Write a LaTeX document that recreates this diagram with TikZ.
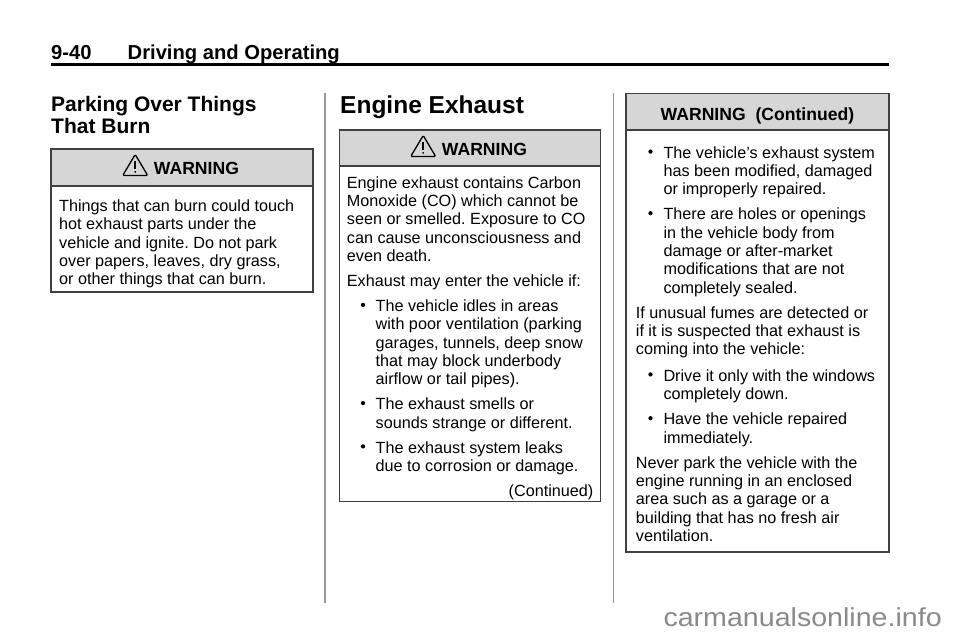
\documentclass[tikz,border=0pt]{standalone}
\usepackage{fontspec}
\setmainfont{Liberation Sans}
\frenchspacing
\definecolor{boxline}{HTML}{404040}
\definecolor{bandfill}{HTML}{D6D6D6}
\definecolor{sepgray}{HTML}{9A9A9A}
\definecolor{wmgray}{HTML}{8A8A8A}
\newcommand\bodyfont{\fontsize{16.2}{18.3}\selectfont}
\newcommand\TLine[4]{\node[txt] (#1) at (#2,#3+1.5) {#4};}
\newcommand\BDot{}
\renewcommand\BDot[3]{\node[bdot] (#1) at (#2,#3-6.6) {};}
\tikzset{
  txt/.style={anchor=base west, inner sep=0pt, font=\bodyfont, text=black},
  bdot/.style={circle, fill=black, inner sep=0pt, minimum size=4.3pt},
  boxframe/.style={draw=boxline, line width=1.4pt},
  warnhead/.style={anchor=base west, inner sep=0pt, font=\fontsize{17.6}{20}\selectfont\bfseries},
  warnsign/.pic={
    \draw[line width=1.3pt, line join=round, rounded corners=1.2pt] (0,0.5) -- (25,0.5) -- (12.5,-20.5) -- cycle;
    \draw[line width=1.5pt] (12.5,-14.5) -- (12.5,-6.3);
    \fill (12.5,-3.2) circle (1pt);
  }
}
\begin{document}
\begin{tikzpicture}[x=1pt,y=-1pt]
\useasboundingbox (0,0) rectangle (960,642);
\fill[white] (0,0) rectangle (960,642);

% page header
\node[anchor=base west, inner sep=0pt, font=\fontsize{20.2}{22}\selectfont\bfseries] (pnum) at (51,59.3) {9-40};
\node[anchor=base west, inner sep=0pt, font=\fontsize{20.2}{22}\selectfont\bfseries] (ptitle) at (127.5,59.3) {Driving and Operating};
\draw[line width=2.3pt] (51,64.5) -- (889,64.5);

% column separators
\draw[sepgray, line width=1.2pt] (325,93) -- (325,603);
\draw[sepgray, line width=1.2pt] (613.5,93) -- (613.5,603);

% column 1 heading
\node[anchor=base west, inner sep=0pt, font=\fontsize{21}{23}\selectfont\bfseries] (h1a) at (51,111) {Parking Over Things};
\node[anchor=base west, inner sep=0pt, font=\fontsize{21}{23}\selectfont\bfseries] (h1b) at (51,133.5) {That Burn};

% box 1
\fill[bandfill] (51,149) rectangle (313,186);
\draw[boxline, line width=1.4pt] (51,186) -- (313,186);
\draw[boxframe] (51,149) rectangle (313,292);
\pic at (122.7,175) {warnsign};
\node[warnhead] (w1) at (153.7,174.7) {WARNING};
\TLine{a1}{59}{210}{Things that can burn could touch}
\TLine{a2}{59}{228.3}{hot exhaust parts under the}
\TLine{a3}{59}{246.6}{vehicle and ignite. Do not park}
\TLine{a4}{59}{264.9}{over papers, leaves, dry grass,}
\TLine{a5}{59}{283.2}{or other things that can burn.}

% column 2 heading
\node[anchor=base west, inner sep=0pt, font=\fontsize{24.5}{27}\selectfont\bfseries] (h2) at (340,113) {Engine Exhaust};

% box 2
\fill[bandfill] (339.3,130) rectangle (600.7,166);
\draw[boxline, line width=1.4pt] (339.3,166) -- (600.7,166);
\draw[boxframe] (339.3,130) rectangle (600.7,501.5);
\pic at (410.7,156) {warnsign};
\node[warnhead] (w2) at (441.7,155.7) {WARNING};
\TLine{b1}{346.7}{186.8}{Engine exhaust contains Carbon}
\TLine{b2}{346.7}{205.1}{Monoxide (CO) which cannot be}
\TLine{b3}{346.7}{223.4}{seen or smelled. Exposure to CO}
\TLine{b4}{346.7}{241.7}{can cause unconsciousness and}
\TLine{b5}{346.7}{260}{even death.}
\TLine{b6}{346.7}{285}{Exhaust may enter the vehicle if:}
\BDot{bd1}{363}{311.5}
\TLine{b7}{375.5}{310}{The vehicle idles in areas}
\TLine{b8}{375.5}{328.3}{with poor ventilation (parking}
\TLine{b9}{375.5}{346.6}{garages, tunnels, deep snow}
\TLine{b10}{375.5}{364.9}{that may block underbody}
\TLine{b11}{375.5}{383.2}{airflow or tail pipes).}
\BDot{bd2}{363}{409.7}
\TLine{b12}{375.5}{408.2}{The exhaust smells or}
\TLine{b13}{375.5}{426.5}{sounds strange or different.}
\BDot{bd3}{363}{453}
\TLine{b14}{375.5}{451.5}{The exhaust system leaks}
\TLine{b15}{375.5}{469.8}{due to corrosion or damage.}
\node[txt, anchor=base east] (b16) at (593.5,496.3) {(Continued)};

% box 3
\fill[bandfill] (626,93.5) rectangle (889,130);
\draw[boxline, line width=1.4pt] (626,130) -- (889,130);
\draw[boxframe] (626,93.5) rectangle (889,552);
\node[anchor=base, inner sep=0pt, font=\fontsize{17.6}{20}\selectfont\bfseries] (w3) at (757.5,120.5) {WARNING\ \ (Continued)};
\BDot{cd1}{650.5}{158.2}
\TLine{c1}{663.3}{156.7}{The vehicle’s exhaust system}
\TLine{c2}{663.3}{175}{has been modified, damaged}
\TLine{c3}{663.3}{193.3}{or improperly repaired.}
\BDot{cd2}{650.5}{219.8}
\TLine{c4}{663.3}{218.3}{There are holes or openings}
\TLine{c5}{663.3}{236.7}{in the vehicle body from}
\TLine{c6}{663.3}{255}{damage or after-market}
\TLine{c7}{663.3}{273.3}{modifications that are not}
\TLine{c8}{663.3}{291.7}{completely sealed.}
\TLine{c9}{635.7}{316.7}{If unusual fumes are detected or}
\TLine{c10}{635.7}{335}{if it is suspected that exhaust is}
\TLine{c11}{635.7}{353.3}{coming into the vehicle:}
\BDot{cd3}{650.5}{381}
\TLine{c12}{663.3}{379.5}{Drive it only with the windows}
\TLine{c13}{663.3}{397.8}{completely down.}
\BDot{cd4}{650.5}{424.8}
\TLine{c14}{663.3}{423.3}{Have the vehicle repaired}
\TLine{c15}{663.3}{441.7}{immediately.}
\TLine{c16}{635.7}{466.7}{Never park the vehicle with the}
\TLine{c17}{635.7}{485}{engine running in an enclosed}
\TLine{c18}{635.7}{503.3}{area such as a garage or a}
\TLine{c19}{635.7}{521.7}{building that has no fresh air}
\TLine{c20}{635.7}{540}{ventilation.}

% watermark
\node[anchor=base west, inner sep=0pt, text=wmgray, font=\fontsize{26}{28}\selectfont] (wm) at (663.3,626) {\scalebox{1.1}[1]{carmanualsonline.info}};
\end{tikzpicture}
\end{document}
